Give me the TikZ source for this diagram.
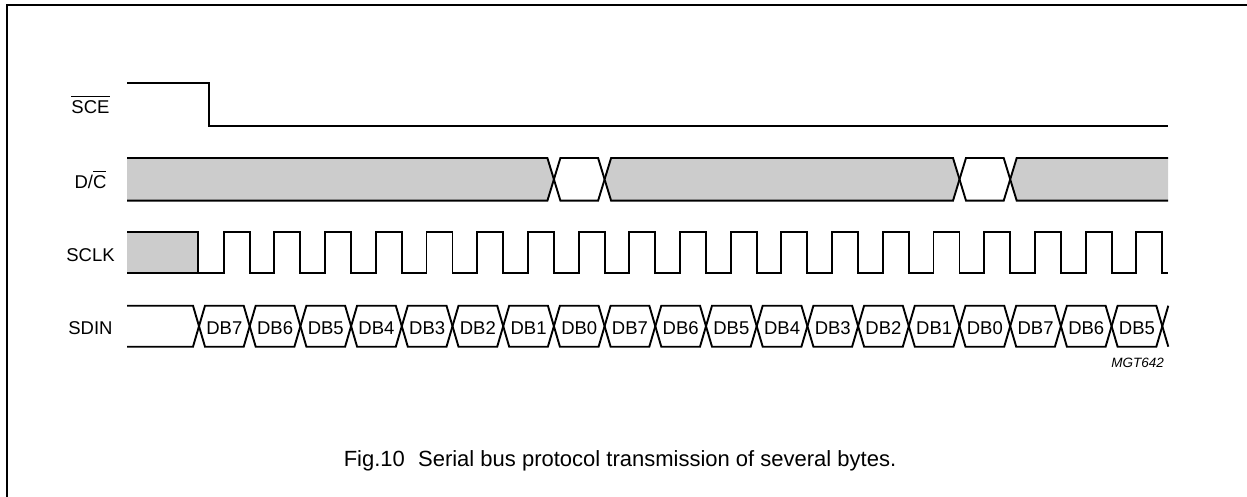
\documentclass[tikz,border=0pt]{standalone}
\usepackage{fontspec}
\setmainfont{Liberation Sans}
\definecolor{busgray}{RGB}{204,204,204}
\newcommand\ovl[1]{\leavevmode\vbox{\hrule height 1.2pt\kern 3.2pt\hbox{#1}}}
\begin{document}
\begin{tikzpicture}[x=1pt,y=-1pt,
  sig/.style={line width=1.9pt, line join=miter},
  frameline/.style={line width=2pt},
  lbl/.style={font=\fontsize{18.5}{22}\selectfont, inner sep=0pt, anchor=base},
  bytelbl/.style={font=\fontsize{18.5}{22}\selectfont, inner sep=0pt, anchor=base},
  code/.style={font=\fontsize{13.5}{16}\selectfont\itshape, inner sep=0pt, anchor=base east},
  caption/.style={font=\fontsize{22}{26}\selectfont, inner sep=0pt, anchor=base},
  busfill/.style={fill=busgray}]
\useasboundingbox (0,0) rectangle (1247,497);
% frame
\draw[frameline] (7,497) -- (7,5) -- (1247,5);
% labels
\node[lbl] (lsce) at (90.5,113.3) {\ovl{SCE}};
\node[lbl] (ldc) at (90.5,188.3) {D/\ovl{C}};
\node[lbl] (lsclk) at (90.5,261.7) {SCLK};
\node[lbl] (lsdin) at (90.5,334) {SDIN};
% SCE
\draw[sig] (127,83) -- (209,83) -- (209,126) -- (1168,126);
% D/C
\def\dt{158}\def\db{200.7}\def\dm{179.35}
\fill[busgray] (127,\dt) -- (547.4,\dt) -- (553.9,\dm) -- (547.4,\db) -- (127,\db) -- cycle;
\draw[sig] (127,\dt) -- (547.4,\dt) -- (553.9,\dm) -- (547.4,\db) -- (127,\db);
\draw[sig] (553.9,\dm) -- (560.4,\dt) -- (598.1,\dt) -- (604.6,\dm) -- (598.1,\db) -- (560.4,\db) -- cycle;
\filldraw[sig,busfill] (604.6,\dm) -- (611.1,\dt) -- (953.0,\dt) -- (959.5,\dm) -- (953.0,\db) -- (611.1,\db) -- cycle;
\draw[sig] (959.5,\dm) -- (966.0,\dt) -- (1003.7,\dt) -- (1010.2,\dm) -- (1003.7,\db) -- (966.0,\db) -- cycle;
\fill[busgray] (1010.2,\dm) -- (1016.7,\dt) -- (1168,\dt) -- (1168,\db) -- (1016.7,\db) -- cycle;
\draw[sig] (1168,\dt) -- (1016.7,\dt) -- (1010.2,\dm) -- (1016.7,\db) -- (1168,\db);
% SCLK
\def\ch{232}\def\cl{272.7}
\fill[busgray] (127,\ch) rectangle (198,\cl);
\draw[sig] (127,\ch) -- (198,\ch) -- (198,\cl);
\draw[sig] (127,\cl) -- (198,\cl)
  \foreach \j in {1,...,19}{ -- ({199+50.7*\j-26},\cl) -- ({199+50.7*\j-26},\ch) -- ({199+50.7*\j},\ch) -- ({199+50.7*\j},\cl)}
  -- (1168,\cl);
% SDIN
\def\st{305.7}\def\sb{346.7}\def\sm{326.2}
\draw[sig] (127,\st) -- (193,\st) -- (199,\sm) -- (193,\sb) -- (127,\sb);
\foreach \lab [count=\i from 0] in {DB7,DB6,DB5,DB4,DB3,DB2,DB1,DB0,DB7,DB6,DB5,DB4,DB3,DB2,DB1,DB0,DB7,DB6,DB5}{
  \pgfmathsetmacro\xa{199+50.7*\i}
  \pgfmathsetmacro\xb{199+50.7*(\i+1)}
  \draw[sig] (\xa,\sm) -- (\xa+6,\st) -- (\xb-6,\st) -- (\xb,\sm) -- (\xb-6,\sb) -- (\xa+6,\sb) -- cycle;
  \node[bytelbl] (b\i) at ({(\xa+\xb)/2},334) {\lab};
}
\draw[sig] (1168.3,\st) -- (1162.3,\sm) -- (1168.3,\sb);
% code and caption
\node[code] (mgt) at (1164,367.7) {MGT642};
\node[caption] (cap) at (620,466) {Fig.10\hspace{0.6em}Serial bus protocol transmission of several bytes.};
\end{tikzpicture}
\end{document}
